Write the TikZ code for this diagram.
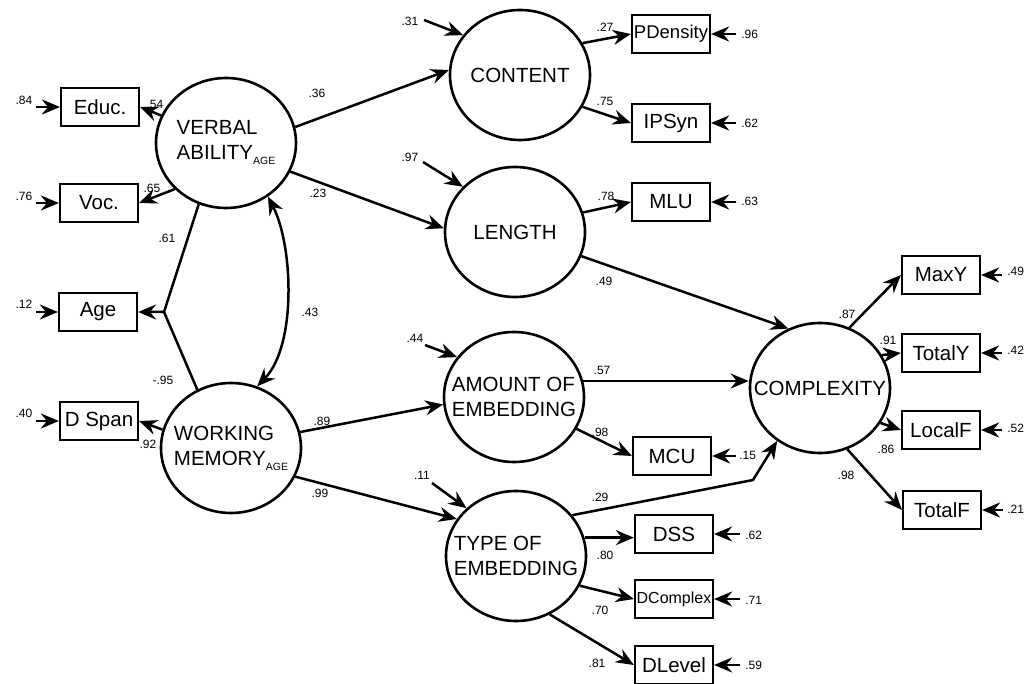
\documentclass[tikz,border=0pt]{standalone}
\usepackage{fontspec}
\setmainfont{Liberation Sans}
\usetikzlibrary{shapes.geometric,arrows.meta}
\newcommand{\agesub}{\raisebox{-5pt}{\fontsize{10.5}{10.5}\selectfont AGE}}
\tikzset{
  headtip/.tip={Stealth[length=18pt,width=15pt,inset=6pt]}
}
\begin{document}
\begin{tikzpicture}[x=1pt,y=-1pt,
  line width=2.5pt,
  latent/.style={ellipse,draw,line width=2.6pt,minimum width=140pt,minimum height=130pt,inner sep=0pt},
  ltext/.style={align=left,font=\fontsize{20.5}{25}\selectfont},
  obs/.style={rectangle,draw,line width=2.2pt,minimum width=78pt,minimum height=38pt,inner sep=0pt,font=\fontsize{20.5}{24}\selectfont},
  lab/.style={font=\fontsize{12}{14}\selectfont,inner sep=0pt},
  arr/.style={-headtip},
  darr/.style={headtip-headtip}
]
\useasboundingbox (0,0) rectangle (1026,684);
% latent variables
\node[latent] (va) at (226,143) {};
\node[ltext] (vat) at (va) {VERBAL\\ABILITY\agesub};
\node[latent] (wm) at (231,448) {};
\node[ltext] (wmt) at (wm) {WORKING\\MEMORY\agesub};
\node[latent] (content) at (520,75) {};
\node[ltext] (contentt) at (content) {CONTENT};
\node[latent] (length) at (515,232) {};
\node[ltext] (lengtht) at (length) {LENGTH};
\node[latent] (amount) at (514,397) {};
\node[ltext] (amountt) at (amount) {AMOUNT OF\\EMBEDDING};
\node[latent] (type) at (516,556) {};
\node[ltext] (typet) at (type) {TYPE OF\\EMBEDDING};
\node[latent] (cx) at (820,388) {};
\node[ltext] (cxt) at (cx) {COMPLEXITY};
% observed
\node[obs] (educ) at (100,107) {Educ.};
\node[obs] (voc) at (99,203) {Voc.};
\node[obs] (age) at (98,312) {Age};
\node[obs] (dspan) at (99,421) {D Span};
\node[obs,font=\fontsize{18.5}{22}\selectfont] (pd) at (671,34) {PDensity};
\node[obs] (ips) at (671,123) {IPSyn};
\node[obs] (mlu) at (671,202) {MLU};
\node[obs] (mcu) at (672,456) {MCU};
\node[obs] (dss) at (674,534) {DSS};
\node[obs,font=\fontsize{16}{19}\selectfont] (dcx) at (674,599) {DComplex};
\node[obs] (dlv) at (674,665) {DLevel};
\node[obs] (maxy) at (941,275) {MaxY};
\node[obs] (toty) at (941,353) {TotalY};
\node[obs] (locf) at (941,430) {LocalF};
\node[obs] (totf) at (942,510) {TotalF};
% coordinates
\coordinate (agej) at (164,312);
\coordinate (bend) at (753,480);
\coordinate (e84) at (36,107);
\coordinate (e76) at (36,203);
\coordinate (e12) at (36,312);
\coordinate (e40) at (36,421);
\coordinate (d31) at (424,20);
\coordinate (d97) at (423,162);
\coordinate (d44) at (425,345);
\coordinate (d11) at (432,483);
\coordinate (r96) at (736,34);
\coordinate (r62a) at (736,123);
\coordinate (r63) at (736,202);
\coordinate (r15) at (736,456);
\coordinate (r62b) at (740,534);
\coordinate (r71) at (740,599);
\coordinate (r59) at (740,665);
\coordinate (r49) at (1002,275);
\coordinate (r42) at (1002,353);
\coordinate (r52) at (1002,430);
\coordinate (r21) at (1003,510);
% left loadings
\draw[arr] (va.157) -- (educ.east);
\draw[arr] (va.222) -- (voc.east);
\draw[arr] (va.246) -- (agej) -- (age.east);
\draw (wm.120) -- (agej);
\draw[arr] (wm.165) -- (dspan.east);
\draw[darr] (va.-52) .. controls (293,245) and (297,345) .. (wm.67);
% structural paths
\draw[arr] (va.13) -- (content.176);
\draw[arr] (va.-24) -- (length.177);
\draw[arr] (wm.13) -- (amount.186);
\draw[arr] (wm.-24) -- (type.148);
\draw[arr] (length.-20) -- (cx.118);
\draw[arr] (amount.13) -- (amount.13 -| cx.west);
\draw[arr] (type.36) -- (bend) -- (cx.231);
% disturbances
\draw[arr] (d31) -- (content.145);
\draw[arr] (d97) -- (length.139);
\draw[arr] (d44) -- (amount.145);
\draw[arr] (d11) -- (type.136);
% right loadings
\draw[arr] (content.27) -- (pd.west);
\draw[arr] (content.-27) -- (ips.west);
\draw[arr] (length.16) -- (mlu.west);
\draw[arr] (amount.-27) -- (mcu.west);
\draw[arr] (type.15) -- (type.15 -| dss.west);
\draw[arr] (type.-25) -- (dcx.west);
\draw[arr] (type.-60) -- (dlv.west);
\draw[arr] (cx.64) -- (maxy.west);
\draw[arr] (cx.28) -- (toty.west);
\draw[arr] (cx.-30) -- (locf.west);
\draw[arr] (cx.-66) -- (totf.west);
% error arrows
\draw[arr] (e84) -- (educ.west);
\draw[arr] (e76) -- (voc.west);
\draw[arr] (e12) -- (age.west);
\draw[arr] (e40) -- (dspan.west);
\draw[arr] (r96) -- (pd.east);
\draw[arr] (r62a) -- (ips.east);
\draw[arr] (r63) -- (mlu.east);
\draw[arr] (r15) -- (mcu.east);
\draw[arr] (r62b) -- (dss.east);
\draw[arr] (r71) -- (dcx.east);
\draw[arr] (r59) -- (dlv.east);
\draw[arr] (r49) -- (maxy.east);
\draw[arr] (r42) -- (toty.east);
\draw[arr] (r52) -- (locf.east);
\draw[arr] (r21) -- (totf.east);
% error labels
\node[lab] (l84) at (24,100) {.84};
\node[lab] (l76) at (24,196) {.76};
\node[lab] (l12) at (24,304) {.12};
\node[lab] (l40) at (24,413) {.40};
\node[lab,anchor=west] (l96) at (740,34) {.96};
\node[lab,anchor=west] (l62a) at (740,123) {.62};
\node[lab,anchor=west] (l63) at (740,201) {.63};
\node[lab,anchor=west] (l15) at (738,455) {.15};
\node[lab,anchor=west] (l62b) at (744,535) {.62};
\node[lab,anchor=west] (l71) at (744,600) {.71};
\node[lab,anchor=west] (l59) at (744,665) {.59};
\node[lab,anchor=west] (l49) at (1006,271) {.49};
\node[lab,anchor=west] (l42) at (1006,350) {.42};
\node[lab,anchor=west] (l52) at (1006,428) {.52};
\node[lab,anchor=west] (l21) at (1006,509) {.21};
% disturbance labels
\node[lab] (l31) at (410,21) {.31};
\node[lab] (l97) at (410,157) {.97};
\node[lab] (l44) at (415,338) {.44};
\node[lab] (l11) at (422,475) {.11};
% path labels
\node[lab] (l54) at (155,104) {.54};
\node[lab] (l65) at (152,188) {.65};
\node[lab] (l61) at (167,238) {.61};
\node[lab] (l95) at (163,380) {-.95};
\node[lab] (l92) at (148,444) {.92};
\node[lab] (l43) at (310,312) {.43};
\node[lab] (l36) at (317,93) {.36};
\node[lab] (l23) at (318,193) {.23};
\node[lab] (l89) at (322,421) {.89};
\node[lab] (l99) at (320,493) {.99};
\node[lab] (l27) at (605,27) {.27};
\node[lab] (l75) at (605,101) {.75};
\node[lab] (l78) at (606,196) {.78};
\node[lab] (l49p) at (604,281) {.49};
\node[lab] (l57) at (602,370) {.57};
\node[lab] (l98a) at (600,432) {.98};
\node[lab] (l29) at (600,497) {.29};
\node[lab] (l80) at (605,555) {.80};
\node[lab] (l70) at (600,610) {.70};
\node[lab] (l81) at (597,663) {.81};
\node[lab] (l87) at (847,314) {.87};
\node[lab] (l91) at (888,340) {.91};
\node[lab] (l86) at (886,449) {.86};
\node[lab] (l98b) at (846,475) {.98};
\end{tikzpicture}
\end{document}
